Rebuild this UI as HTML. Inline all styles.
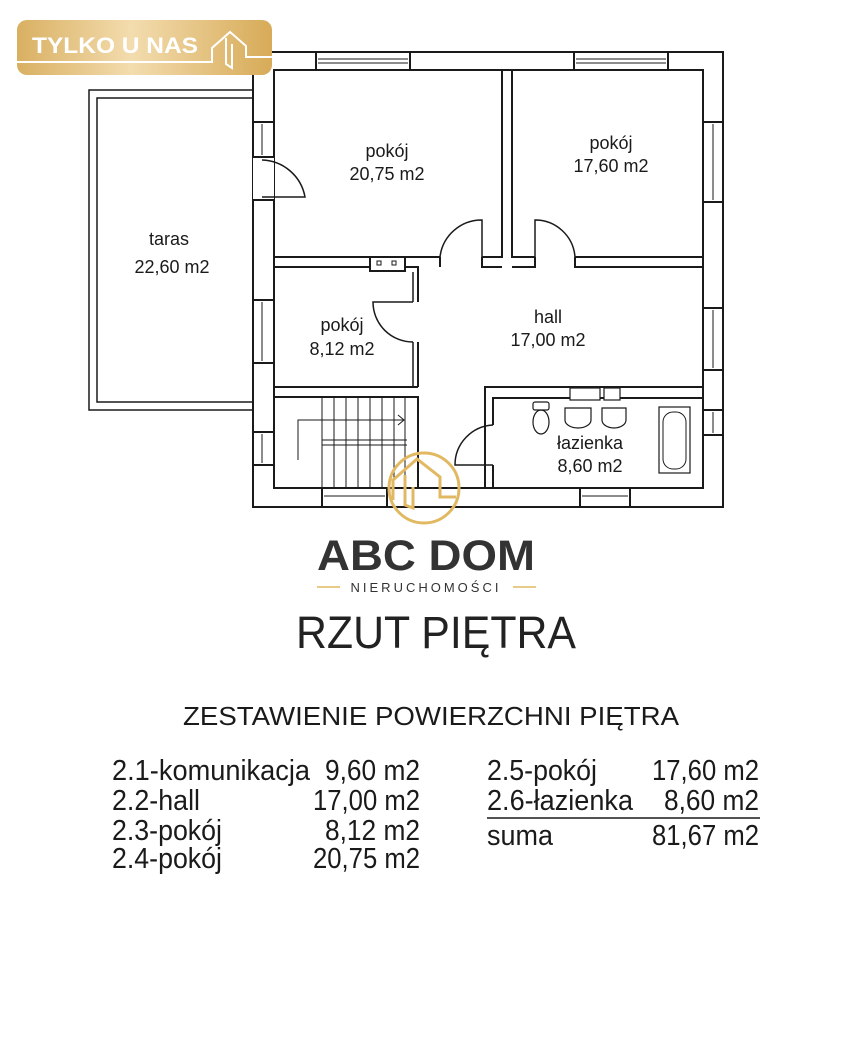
<!DOCTYPE html>
<html><head><meta charset="utf-8"><style>
html,body{margin:0;padding:0;background:#fff;}
svg{display:block;}
text{font-family:"Liberation Sans",sans-serif;}
</style></head><body>
<svg width="851" height="1040" viewBox="0 0 851 1040" xmlns="http://www.w3.org/2000/svg">
<defs>
<linearGradient id="g" x1="0" x2="1" y1="0" y2="0">
<stop offset="0" stop-color="#d9b062"/><stop offset="0.45" stop-color="#f3dcae"/><stop offset="1" stop-color="#d7ab58"/>
</linearGradient>
</defs>
<g fill="none" stroke="#1a1a1a" stroke-width="2">
<rect x="89" y="90" width="164" height="320" stroke-width="1.5"/>
<rect x="97" y="98" width="156" height="304" stroke-width="1.5"/>
<path d="M253 52 H723 V507 H253 Z"/>
<path d="M274 70 H703 V488 H274 Z"/>
<rect x="316" y="52" width="94" height="18" fill="#fff"/>
<line x1="318" y1="59" x2="408" y2="59" stroke-width="1"/><line x1="318" y1="63" x2="408" y2="63" stroke-width="1"/>
<rect x="574" y="52" width="94" height="18" fill="#fff"/>
<line x1="576" y1="59" x2="666" y2="59" stroke-width="1"/><line x1="576" y1="63" x2="666" y2="63" stroke-width="1"/>
<rect x="253" y="122" width="21" height="35" fill="#fff"/><line x1="262" y1="124" x2="262" y2="155" stroke-width="1"/>
<rect x="253" y="157" width="21" height="43" fill="#fff" stroke="none"/>
<line x1="253" y1="157" x2="274" y2="157"/><line x1="253" y1="200" x2="274" y2="200"/>
<path d="M262 160 A45 45 0 0 1 305 197 H262" stroke-width="1.5"/>
<rect x="253" y="300" width="21" height="63" fill="#fff"/><line x1="262" y1="302" x2="262" y2="361" stroke-width="1"/>
<rect x="253" y="432" width="21" height="33" fill="#fff"/><line x1="262" y1="434" x2="262" y2="463" stroke-width="1"/>
<rect x="703" y="122" width="20" height="80" fill="#fff"/><line x1="713" y1="124" x2="713" y2="200" stroke-width="1"/>
<rect x="703" y="308" width="20" height="62" fill="#fff"/><line x1="713" y1="310" x2="713" y2="368" stroke-width="1"/>
<rect x="703" y="410" width="20" height="25" fill="#fff"/><line x1="713" y1="412" x2="713" y2="433" stroke-width="1"/>
<rect x="322" y="488" width="65" height="19" fill="#fff"/><line x1="324" y1="496" x2="385" y2="496" stroke-width="1"/>
<rect x="580" y="488" width="50" height="19" fill="#fff"/><line x1="582" y1="496" x2="628" y2="496" stroke-width="1"/>
<path d="M274 257 H440 M482 257 H502 V70 M512 70 V257 H535 M575 257 H703"/>
<path d="M274 267 H370 M405 267 H418 V302 M418 342 V387 M440 267 V257 M482 257 V267 H502 M512 267 H535 V257 M575 257 V267 H703"/>
<path d="M413 272 V302 M413 342 V387" stroke-width="1.5"/>
<path d="M440 257 A42 42 0 0 1 482 220 V257" stroke-width="1.5"/>
<path d="M575 257 A40 40 0 0 0 535 220 V257" stroke-width="1.5"/>
<path d="M413 342 A40 40 0 0 1 373 302 H413" stroke-width="1.5"/>
<rect x="370" y="257" width="35" height="14" fill="#fff"/>
<rect x="377" y="261" width="4" height="4" stroke-width="1"/><rect x="392" y="261" width="4" height="4" stroke-width="1"/>
<path d="M274 387 H418 M274 397 H418 V488"/>
<g stroke-width="1">
<line x1="322" y1="397" x2="322" y2="488"/><line x1="334" y1="397" x2="334" y2="488"/><line x1="346" y1="397" x2="346" y2="488"/>
<line x1="358" y1="397" x2="358" y2="488"/><line x1="370" y1="397" x2="370" y2="488"/><line x1="382" y1="397" x2="382" y2="488"/>
<line x1="394" y1="397" x2="394" y2="488"/><line x1="405" y1="397" x2="405" y2="488"/>
<path d="M322 440 H407 M322 445 H407"/>
<path d="M298 460 V420 H404 M398 415 L404 420 L398 425"/>
</g>
<path d="M485 488 V387 H703 M493 425 V398 H703 M493 465 V488"/>
<path d="M493 425 A40 40 0 0 0 455 465 H493" stroke-width="1.5"/>
<rect x="570" y="388" width="30" height="12" fill="#fff" stroke-width="1.2"/>
<rect x="604" y="388" width="16" height="12" fill="#fff" stroke-width="1.2"/>
<rect x="533" y="402" width="16" height="8" rx="2" stroke-width="1.2"/>
<ellipse cx="541" cy="422" rx="8" ry="12" stroke-width="1.2"/>
<path d="M565 408 H591 V420 A13 8 0 0 1 565 420 Z" stroke-width="1.2"/>
<path d="M602 408 H626 V420 A12 8 0 0 1 602 420 Z" stroke-width="1.2"/>
<rect x="659" y="407" width="31" height="66" stroke-width="1.2"/>
<rect x="663" y="412" width="23" height="57" rx="10" stroke-width="1"/>
</g>
<g font-size="18" fill="#1a1a1a" text-anchor="middle">
<text x="387" y="157">pokój</text><text x="387" y="180">20,75 m2</text>
<text x="611" y="149">pokój</text><text x="611" y="172">17,60 m2</text>
<text x="169" y="245">taras</text><text x="172" y="273">22,60 m2</text>
<text x="342" y="331">pokój</text><text x="342" y="355">8,12 m2</text>
<text x="548" y="323">hall</text><text x="548" y="346">17,00 m2</text>
<text x="590" y="449">łazienka</text><text x="590" y="472">8,60 m2</text>
</g>
<rect x="17" y="20" width="255" height="55" rx="10" fill="url(#g)"/>
<text x="32" y="53" font-size="22" font-weight="bold" fill="#fff" textLength="166" lengthAdjust="spacingAndGlyphs">TYLKO U NAS</text>
<path d="M17 62 H212 V48 L230 32 L246 46 V57 H272" fill="none" stroke="#fff" stroke-width="2"/>
<path d="M226 38 V64 L232 68 V44" fill="none" stroke="#fff" stroke-width="2"/>
<circle cx="424" cy="488" r="35" fill="none" stroke="#e1b962" stroke-width="3"/>
<path d="M393 500 V480 L417 459 L440 477 V497 L456 497 M405 475 V505 L413 508 V487" fill="none" stroke="#e1b962" stroke-width="3"/>
<text x="426" y="570" font-size="43" font-weight="bold" fill="#333" text-anchor="middle" textLength="218" lengthAdjust="spacingAndGlyphs">ABC DOM</text>
<text x="426" y="592" font-size="13" fill="#333" text-anchor="middle" letter-spacing="3">NIERUCHOMOŚCI</text>
<line x1="317" y1="587" x2="340" y2="587" stroke="#e1b962" stroke-width="1.5"/>
<line x1="513" y1="587" x2="536" y2="587" stroke="#e1b962" stroke-width="1.5"/>
<text x="436" y="648" font-size="45" fill="#222" text-anchor="middle" textLength="280" lengthAdjust="spacingAndGlyphs">RZUT PIĘTRA</text>
<g font-size="29" fill="#1a1a1a">
<text x="183" y="725" font-size="26" textLength="496" lengthAdjust="spacingAndGlyphs">ZESTAWIENIE POWIERZCHNI PIĘTRA</text>
<text x="112" y="780" textLength="198" lengthAdjust="spacingAndGlyphs">2.1-komunikacja</text>
<text x="112" y="810" textLength="88" lengthAdjust="spacingAndGlyphs">2.2-hall</text>
<text x="112" y="840" textLength="110" lengthAdjust="spacingAndGlyphs">2.3-pokój</text>
<text x="112" y="868" textLength="110" lengthAdjust="spacingAndGlyphs">2.4-pokój</text>
<text x="325" y="780" textLength="95" lengthAdjust="spacingAndGlyphs">9,60 m2</text>
<text x="313" y="810" textLength="107" lengthAdjust="spacingAndGlyphs">17,00 m2</text>
<text x="325" y="840" textLength="95" lengthAdjust="spacingAndGlyphs">8,12 m2</text>
<text x="313" y="868" textLength="107" lengthAdjust="spacingAndGlyphs">20,75 m2</text>
<text x="652" y="780" textLength="107" lengthAdjust="spacingAndGlyphs">17,60 m2</text>
<text x="664" y="810" textLength="95" lengthAdjust="spacingAndGlyphs">8,60 m2</text>
<text x="652" y="845" textLength="107" lengthAdjust="spacingAndGlyphs">81,67 m2</text>
<text x="487" y="780" textLength="110" lengthAdjust="spacingAndGlyphs">2.5-pokój</text>
<text x="487" y="810" textLength="146" lengthAdjust="spacingAndGlyphs">2.6-łazienka</text>
<text x="487" y="845" textLength="66" lengthAdjust="spacingAndGlyphs">suma</text>
</g>
<line x1="487" y1="818" x2="760" y2="818" stroke="#1a1a1a" stroke-width="1.5"/>
</svg>
</body></html>
